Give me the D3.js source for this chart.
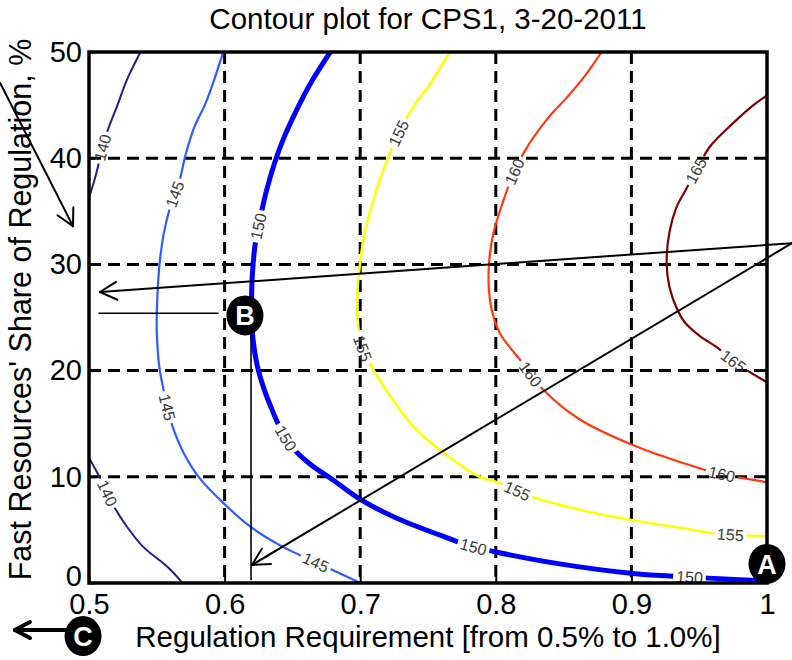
<!DOCTYPE html>
<html>
<head>
<meta charset="utf-8">
<script src="https://cdn.jsdelivr.net/npm/d3@7"></script>
<style>
  body { margin: 0; background: #fff; }
  svg { display: block; }
  text { font-family: "Liberation Sans", Arial, Helvetica, sans-serif; }
</style>
</head>
<body>
<script>
// ---- data: contour levels of the cost surface ----
const levels = [140, 145, 150, 155, 160, 165];

// contour polylines as [regulation requirement, fast-resource share %]
const c140Upper = [[0.538,50],[0.528,47.4],[0.521,45.0],[0.514,42.7],[0.510,41.0],[0.506,38.9],[0.503,37.5],[0.500,36.3]];
const c140Lower = [[0.500,11.8],[0.503,11.1],[0.509,9.7],[0.518,7.3],[0.528,5.3],[0.540,3.4],[0.558,1.5],[0.569,0]];
const c145 = [[0.599,50],[0.587,45.5],[0.577,42.7],[0.571,40.2],[0.567,38.0],[0.563,36.5],[0.559,35.0],[0.555,32.8],
              [0.552,30.0],[0.550,25.4],[0.550,23.5],[0.552,20.2],[0.555,18.2],[0.558,16.4],[0.562,14.6],[0.570,12.2],
              [0.582,9.8],[0.601,7.3],[0.619,5.3],[0.643,3.4],[0.663,2.2],[0.680,1.2],[0.700,0]];
const c150 = [[0.678,50],[0.665,47.4],[0.653,44.5],[0.643,41.7],[0.637,39.6],[0.631,37.0],[0.627,34.8],[0.623,32.3],
              [0.621,30.0],[0.620,27.6],[0.620,25.2],[0.621,22.9],[0.624,20.5],[0.629,18.3],[0.635,16.3],[0.641,14.6],
              [0.649,12.9],[0.662,11.3],[0.680,9.7],[0.701,7.8],[0.727,6.1],[0.759,4.5],[0.781,3.5],[0.801,2.9],
              [0.847,1.8],[0.901,0.9],[0.943,0.56],[0.984,0.28],[1.000,0.19]];
const c155 = [[0.766,50],[0.751,46.9],[0.740,45.0],[0.730,42.8],[0.722,40.5],[0.714,37.8],[0.708,35.3],[0.703,32.8],
              [0.700,30.2],[0.698,27.6],[0.698,25.0],[0.701,22.4],[0.711,19.8],[0.726,16.9],[0.740,14.6],[0.760,12.4],
              [0.788,10.0],[0.801,9.5],[0.827,8.1],[0.862,6.9],[0.901,5.9],[0.936,5.2],[0.960,4.7],[0.980,4.5],[1.000,4.4]];
const c160 = [[0.878,50],[0.866,47.8],[0.853,45.8],[0.838,43.7],[0.821,40.6],[0.811,37.9],[0.804,35.4],[0.798,32.8],
              [0.795,30.1],[0.795,27.5],[0.798,25.2],[0.804,23.3],[0.818,21.0],[0.835,18.2],[0.862,15.4],[0.901,13.0],
              [0.948,10.9],[0.965,10.3],[1.000,9.5]];
const c165 = [[1.000,45.9],[0.990,45.0],[0.975,43.3],[0.958,41.1],[0.948,38.9],[0.940,37.0],[0.933,35.3],[0.928,33.0],
              [0.926,30.1],[0.928,27.9],[0.934,25.7],[0.939,24.6],[0.951,23.2],[0.963,22.2],[0.976,20.8],[1.000,18.9]];

// which level each polyline belongs to
const contourLevelOf = [140, 140, 145, 150, 155, 160, 165];
const contourLines = [c140Upper, c140Lower, c145, c150, c155, c160, c165];

// inline contour labels: level, requirement, share %
const labelLevels = [140, 140, 145, 145, 145, 150, 150, 150, 150, 155, 155, 155, 155, 160, 160, 160, 165, 165];
const labelX      = [0.510, 0.513, 0.566, 0.556, 0.667, 0.628, 0.646, 0.783, 0.943, 0.729, 0.702, 0.816, 0.973, 0.816, 0.825, 0.967, 0.951, 0.974];
const labelY      = [41.0, 8.4, 36.5, 16.5, 1.9, 33.5, 13.7, 3.2, 0.6, 42.3, 22.1, 8.7, 4.6, 38.6, 19.6, 10.5, 38.6, 20.7];

// axes
const xTicks = [0.5, 0.6, 0.7, 0.8, 0.9, 1.0];
const xTickLabels = ["0.5", "0.6", "0.7", "0.8", "0.9", "1"];
const yTicks = [0, 10, 20, 30, 40, 50];
const yTickLabels = ["0", "10", "20", "30", "40", "50"];
const xGrid = [0.6, 0.7, 0.8, 0.9];
const yGrid = [10, 20, 30, 40];

const titleText = "Contour plot for CPS1, 3-20-2011";
const xTitleText = "Regulation Requirement [from 0.5% to 1.0%]";
const yTitleText = "Fast Resources' Share of Regulation, %";

// annotation points (data units)
const markerNames = ["A", "B", "C"];
const markerX = [1.000, 0.615, 0.4956];
const markerY = [1.8, 25.2, -5.0];

// ---- drawing ----
const W = 792, H = 660;
const x = d3.scaleLinear().domain([0.5, 1.0]).range([89, 767]);
const y = d3.scaleLinear().domain([0, 50]).range([583, 52]);

const svg = d3.select("body").append("svg").attr("width", W).attr("height", H);
const defs = svg.append("defs");

defs.append("clipPath").attr("id", "plot-clip")
  .append("rect")
  .attr("x", x(0.5)).attr("y", y(50))
  .attr("width", x(1) - x(0.5)).attr("height", y(0) - y(50));

// grid
const grid = svg.append("g").attr("stroke", "#000").attr("stroke-width", 3).attr("stroke-dasharray", "12,7");
grid.selectAll("line.gx").data(xGrid).join("line").attr("class", "gx")
  .attr("x1", d => x(d)).attr("x2", d => x(d)).attr("y1", y(50)).attr("y2", y(0));
grid.selectAll("line.gy").data(yGrid).join("line").attr("class", "gy")
  .attr("y1", d => y(d)).attr("y2", d => y(d)).attr("x1", x(0.5)).attr("x2", x(1));

// contour styles
const levelColor = {140: "#1f1f85", 145: "#2f5cff", 150: "#0000ff", 155: "#ffff00", 160: "#ff3a10", 165: "#7e0000"};
const levelWidth = {140: 2, 145: 2.2, 150: 5, 155: 2.6, 160: 2.2, 165: 2.2};

const line = d3.line().x(d => x(d[0])).y(d => y(d[1])).curve(d3.curveCatmullRom.alpha(0.5));

const contourG = svg.append("g").attr("clip-path", "url(#plot-clip)");
const paths = contourLines.map((pts, i) => {
  const lvl = contourLevelOf[i];
  return contourG.append("path")
    .attr("d", line(pts))
    .attr("fill", "none")
    .attr("stroke", levelColor[lvl])
    .attr("stroke-width", levelWidth[lvl])
    .attr("stroke-linejoin", "round")
    .attr("stroke-linecap", "round")
    .datum(lvl);
});

// place each label on its contour, rotated along it, and cut a gap in the line
function closestOnPath(node, px, py) {
  const L = node.getTotalLength();
  let best = 0, bd = Infinity;
  for (let s = 0; s <= L; s += 0.5) {
    const p = node.getPointAtLength(s);
    const d = (p.x - px) ** 2 + (p.y - py) ** 2;
    if (d < bd) { bd = d; best = s; }
  }
  return {s: best, d: bd, L: L};
}

const labelG = svg.append("g");
const gaps = {};
levels.forEach(l => gaps[l] = []);

labelLevels.forEach((lvl, i) => {
  const px = x(labelX[i]), py = y(labelY[i]);
  let bestNode = null, best = null;
  paths.forEach((p, j) => {
    if (contourLevelOf[j] !== lvl) return;
    const r = closestOnPath(p.node(), px, py);
    if (!best || r.d < best.d) { best = r; bestNode = p.node(); }
  });
  const c = bestNode.getPointAtLength(best.s);
  const a = bestNode.getPointAtLength(Math.max(0, best.s - 6));
  const b = bestNode.getPointAtLength(Math.min(best.L, best.s + 6));
  let ang = Math.atan2(b.y - a.y, b.x - a.x) * 180 / Math.PI;
  if (ang > 90) ang -= 180;
  if (ang < -90) ang += 180;
  const t = labelG.append("text")
    .attr("transform", `translate(${c.x},${c.y}) rotate(${ang})`)
    .attr("text-anchor", "middle")
    .attr("dy", "0.36em")
    .attr("font-size", 16)
    .attr("fill", "#3a3a3a")
    .text(String(lvl));
  const w = t.node().getComputedTextLength();
  gaps[lvl].push({cx: c.x, cy: c.y, ang: ang, w: w + 6});
});

// masks that open gaps in each contour under its labels
levels.forEach(lvl => {
  const m = defs.append("mask").attr("id", "gap-" + lvl)
    .attr("maskUnits", "userSpaceOnUse")
    .attr("x", 0).attr("y", 0).attr("width", W).attr("height", H);
  m.append("rect").attr("x", 0).attr("y", 0).attr("width", W).attr("height", H).attr("fill", "#fff");
  gaps[lvl].forEach(g => {
    m.append("rect")
      .attr("x", -g.w / 2).attr("y", -8).attr("width", g.w).attr("height", 16)
      .attr("transform", `translate(${g.cx},${g.cy}) rotate(${g.ang})`)
      .attr("fill", "#000");
  });
});
paths.forEach(p => p.attr("mask", d => `url(#gap-${d})`));

// frame
svg.append("rect")
  .attr("x", x(0.5)).attr("y", y(50))
  .attr("width", x(1) - x(0.5)).attr("height", y(0) - y(50))
  .attr("fill", "none").attr("stroke", "#000").attr("stroke-width", 3.5);

// axes with inward ticks
const fontAxis = 29;
const xAxis = svg.append("g").attr("transform", `translate(0,${y(0)})`)
  .call(d3.axisBottom(x).tickValues(xTicks).tickFormat((d, i) => xTickLabels[i]).tickSizeInner(-6).tickSizeOuter(0).tickPadding(10));
const yAxis = svg.append("g").attr("transform", `translate(${x(0.5)},0)`)
  .call(d3.axisLeft(y).tickValues(yTicks).tickFormat((d, i) => yTickLabels[i]).tickSizeInner(-6).tickSizeOuter(0).tickPadding(7));
[xAxis, yAxis].forEach(g => {
  g.select(".domain").remove();
  g.selectAll(".tick line").attr("stroke", "#000").attr("stroke-width", 2);
  g.selectAll(".tick text").attr("font-size", fontAxis).attr("fill", "#000")
    .attr("font-family", "'Liberation Sans', Arial, sans-serif");
});
// the lowest share label sits a little above the corner, clear of "0.5"
yAxis.selectAll(".tick text").filter(d => d === 0).attr("dy", "0.1em");

// titles
svg.append("text").attr("x", (x(0.5) + x(1)) / 2).attr("y", 29)
  .attr("text-anchor", "middle").attr("font-size", 29.5).text(titleText);
svg.append("text").attr("x", (x(0.5) + x(1)) / 2).attr("y", 647)
  .attr("text-anchor", "middle").attr("font-size", 29.5).text(xTitleText);
svg.append("text").attr("transform", `translate(31,${(y(0) + y(50)) / 2 - 8}) rotate(-90)`)
  .attr("text-anchor", "middle").attr("font-size", 30.5).text(yTitleText);

// ---- annotations ----
const ann = svg.append("g").attr("stroke", "#000").attr("fill", "none").attr("stroke-linecap", "round");

function arrow(x1, y1, x2, y2, width, head) {
  const X1 = x(x1), Y1 = y(y1), X2 = x(x2), Y2 = y(y2);
  ann.append("line").attr("x1", X1).attr("y1", Y1).attr("x2", X2).attr("y2", Y2).attr("stroke-width", width);
  const th = Math.atan2(Y1 - Y2, X1 - X2), spread = 28 * Math.PI / 180;
  [-spread, spread].forEach(s => {
    ann.append("line").attr("x1", X2).attr("y1", Y2)
      .attr("x2", X2 + head * Math.cos(th + s)).attr("y2", Y2 + head * Math.sin(th + s))
      .attr("stroke-width", width);
  });
}
function seg(x1, y1, x2, y2, width) {
  ann.append("line").attr("x1", x(x1)).attr("y1", y(y1)).attr("x2", x(x2)).attr("y2", y(y2)).attr("stroke-width", width);
}

arrow(0.4344, 47.1, 0.4882, 33.6, 2, 19);     // pointer at the share axis
arrow(1.0184, 32.0, 0.5081, 27.4, 2, 19);     // long pointer to the share axis
arrow(1.0184, 32.0, 0.6202, 1.7, 2, 19);      // long pointer toward the requirement axis
seg(0.5074, 25.4, 0.5951, 25.4, 1.6);         // leader from B to the axis
seg(0.6195, 23.3, 0.6195, 0.3, 1.6);          // drop line under B
arrow(0.4838, -4.43, 0.4454, -4.43, 4, 17);   // arrow next to C

const mk = svg.append("g");
markerNames.forEach((n, i) => {
  const cx = x(markerX[i]), cy = y(markerY[i]);
  mk.append("ellipse").attr("cx", cx).attr("cy", cy).attr("rx", 18.5).attr("ry", 20).attr("fill", "#000");
  mk.append("text").attr("x", cx).attr("y", cy).attr("dy", "0.36em")
    .attr("text-anchor", "middle").attr("font-size", 27).attr("font-weight", "bold")
    .attr("fill", "#fff").text(n);
});
</script>
</body>
</html>
